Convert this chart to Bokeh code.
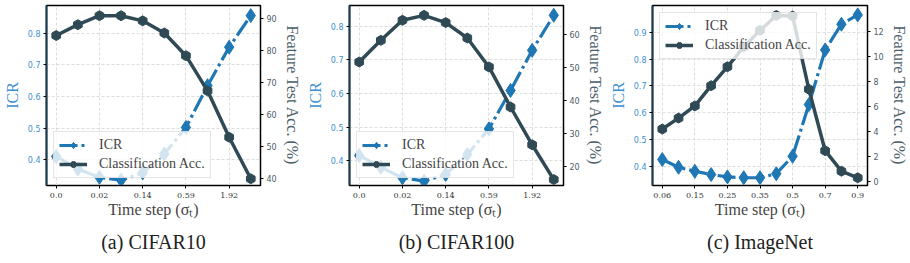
from bokeh.plotting import figure
from bokeh.models import Range1d, LinearAxis, FixedTicker, Legend, LegendItem, Title
from bokeh.layouts import row
from bokeh.embed import file_html
from bokeh.resources import INLINE

# ---------------- data ----------------
cifar10_icr = [0.41, 0.37, 0.344, 0.335, 0.358, 0.418, 0.502, 0.634, 0.756, 0.856]
cifar10_acc = [84.8, 88.2, 91.0, 91.0, 89.4, 85.6, 78.5, 67.5, 53.0, 40.0]
cifar100_icr = [0.416, 0.381, 0.35, 0.34, 0.36, 0.419, 0.495, 0.609, 0.728, 0.832]
cifar100_acc = [51.7, 58.3, 64.4, 65.9, 63.7, 59.0, 50.2, 38.0, 26.5, 15.9]
imagenet_icr = [0.425, 0.396, 0.381, 0.369, 0.36, 0.357, 0.357, 0.372, 0.437, 0.63, 0.834, 0.93, 0.965]
imagenet_acc = [4.19, 5.07, 6.05, 7.68, 9.2, 10.8, 12.13, 13.33, 13.28, 7.39, 2.45, 0.8, 0.27]
cifar_tick_labels = ["0.0", "0.02", "0.14", "0.59", "1.92"]
imagenet_tick_labels = ["0.06", "0.15", "0.25", "0.35", "0.5", "0.7", "0.9"]
icr_ticks_cifar = [0.4, 0.5, 0.6, 0.7, 0.8]
icr_ticks_imagenet = [0.4, 0.5, 0.6, 0.7, 0.8, 0.9]
acc_ticks_c10 = [40, 50, 60, 70, 80, 90]
acc_ticks_c100 = [20, 30, 40, 50, 60]
acc_ticks_in = [0, 2, 4, 6, 8, 10, 12]
captions = ["(a) CIFAR10", "(b) CIFAR100", "(c) ImageNet"]

ICR_COLOR = "#1f77b4"
ACC_COLOR = "#2f4a55"
ICR_TEXT = "#3d8fd0"
ACC_TEXT = "#4a5d68"
SERIF = "Liberation Serif"


def make_panel(icr, acc, tick_labels, icr_range, acc_range, icr_ticks, acc_ticks,
               caption, legend_loc, width, left, right):
    n = len(icr)
    xs = list(range(n))
    pad = 0.05 * (n - 1)
    p = figure(width=width, height=263, output_backend="svg", toolbar_location=None,
               x_range=Range1d(-pad, n - 1 + pad), y_range=Range1d(*icr_range),
               min_border_left=left, min_border_right=right,
               min_border_top=5, min_border_bottom=78)
    p.extra_y_ranges = {"acc": Range1d(*acc_range)}
    p.background_fill_color = "white"
    p.border_fill_color = "white"
    p.outline_line_color = "black"
    p.outline_line_width = 1.5

    tick_pos = list(range(0, n, 2))
    p.xaxis.ticker = FixedTicker(ticks=tick_pos)
    p.xaxis.major_label_overrides = {i: lab for i, lab in zip(tick_pos, tick_labels)}
    p.xaxis.minor_tick_line_color = None
    p.xaxis.major_tick_out = 3
    p.xaxis.major_tick_in = 0
    p.xaxis.major_label_text_font = "DejaVu Serif"
    p.xaxis.major_label_text_font_size = "8px"
    p.xaxis.major_label_text_color = "#333333"
    p.xaxis.major_label_standoff = 4
    p.xaxis.axis_label = "Time step (σₜ)"
    p.xaxis.axis_label_text_font = SERIF
    p.xaxis.axis_label_text_font_size = "16px"
    p.xaxis.axis_label_text_font_style = "normal"
    p.xaxis.axis_label_standoff = 0
    p.xaxis.axis_line_color = "black"

    p.yaxis.ticker = FixedTicker(ticks=icr_ticks)
    p.yaxis.minor_tick_line_color = None
    p.yaxis.major_tick_out = 3
    p.yaxis.major_tick_in = 0
    p.yaxis.major_label_text_font = "DejaVu Sans"
    p.yaxis.major_label_text_font_size = "8px"
    p.yaxis.major_label_text_color = ICR_TEXT
    p.yaxis.major_label_standoff = 3
    p.yaxis.axis_label = "ICR"
    p.yaxis.axis_label_text_font = SERIF
    p.yaxis.axis_label_text_font_size = "16px"
    p.yaxis.axis_label_text_font_style = "normal"
    p.yaxis.axis_label_text_color = ICR_TEXT
    p.yaxis.axis_label_standoff = 4
    p.yaxis.axis_line_color = "#1d3c52"
    p.yaxis.axis_line_width = 2

    ax = LinearAxis(y_range_name="acc", ticker=FixedTicker(ticks=acc_ticks))
    ax.minor_tick_line_color = None
    ax.major_tick_out = 3
    ax.major_tick_in = 0
    ax.major_label_text_font = "DejaVu Sans"
    ax.major_label_text_font_size = "8px"
    ax.major_label_text_color = ACC_TEXT
    ax.major_label_standoff = 3
    ax.axis_label = "Feature Test Acc. (%)"
    ax.axis_label_text_font = SERIF
    ax.axis_label_text_font_size = "16px"
    ax.axis_label_text_font_style = "normal"
    ax.axis_label_text_color = ACC_TEXT
    ax.axis_label_standoff = 4
    ax.axis_line_color = "black"
    p.add_layout(ax, "right")

    p.xgrid.grid_line_color = "#dddddd"
    p.xgrid.grid_line_dash = "3 2"
    p.ygrid.grid_line_color = "#dddddd"
    p.ygrid.grid_line_dash = "3 2"

    l1 = p.line(xs, icr, line_color=ICR_COLOR, line_width=3.2, line_dash="18 4 3 4")
    s1 = p.scatter(xs, icr, marker="diamond", size=14, fill_color=ICR_COLOR,
                   line_color=ICR_COLOR, line_width=1)
    l2 = p.line(xs, acc, y_range_name="acc", line_color=ACC_COLOR, line_width=3.5)
    s2 = p.scatter(xs, acc, y_range_name="acc", marker="hex", size=10, angle=0.5236,
                   fill_color=ACC_COLOR, line_color=ACC_COLOR)

    legend = Legend(items=[LegendItem(label="ICR", renderers=[l1, s1]),
                           LegendItem(label="Classification Acc.", renderers=[l2, s2])],
                    location=legend_loc)
    legend.label_text_font = SERIF
    legend.label_text_font_size = "14px"
    legend.glyph_width = 28
    legend.glyph_height = 16
    legend.label_height = 16
    legend.label_standoff = 12
    legend.spacing = 3
    legend.padding = 5
    legend.margin = 7
    legend.background_fill_alpha = 0.8
    legend.border_line_color = "#cccccc"
    legend.border_line_width = 1
    p.add_layout(legend, "center")

    t = Title(text=caption, align="center", text_font=SERIF, text_font_size="20px",
              text_font_style="normal", text_color="#222222", standoff=16)
    p.add_layout(t, "below")
    return p


p1 = make_panel(cifar10_icr, cifar10_acc, cifar_tick_labels, (0.318, 0.888), (37.9, 94.2),
                icr_ticks_cifar, acc_ticks_c10, captions[0], "bottom_left", 303, 41, 40)
p2 = make_panel(cifar100_icr, cifar100_acc, cifar_tick_labels, (0.327, 0.861), (14.1, 68.9),
                icr_ticks_cifar, acc_ticks_c100, captions[1], "bottom_left", 303, 42, 39)
p3 = make_panel(imagenet_icr, imagenet_acc, imagenet_tick_labels, (0.328, 1.0), (-0.35, 14.13),
                icr_ticks_imagenet, acc_ticks_in, captions[2], "top_left", 304, 44, 38)

layout = row(p1, p2, p3)
open("out.html", "w").write(file_html(layout, INLINE))
